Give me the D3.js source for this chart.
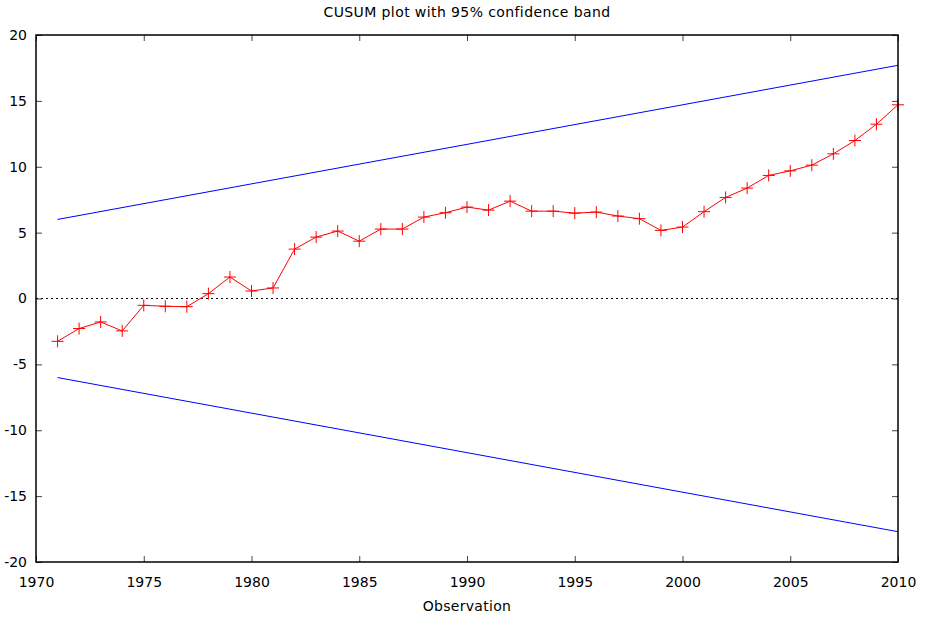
<!DOCTYPE html>
<html>
<head>
<meta charset="utf-8">
<script src="https://cdn.jsdelivr.net/npm/d3@7"></script>
<style>
  body { margin: 0; background: #fff; }
  text { font-family: "DejaVu Sans", Verdana, sans-serif; font-size: 14px; fill: #000; }
</style>
</head>
<body>
<div id="chart-area"></div>
<script>
// data
var years = d3.range(1971, 2011);
var cusum = [-3.25, -2.28, -1.78, -2.46, -0.52, -0.59, -0.62, 0.37, 1.63, 0.57,
             0.8, 3.75, 4.66, 5.12, 4.35, 5.27, 5.27, 6.18, 6.51, 6.94,
             6.71, 7.39, 6.63, 6.63, 6.48, 6.56, 6.26, 6.06, 5.17, 5.42,
             6.59, 7.67, 8.38, 9.34, 9.69, 10.12, 10.98, 11.99, 13.23, 14.7];
var bandYears = [1971, 2010];
var bandUpper = [6.0, 17.7];
var bandLower = [-6.0, -17.7];
var xTicks = [1970, 1975, 1980, 1985, 1990, 1995, 2000, 2005, 2010];
var yTicks = [-20, -15, -10, -5, 0, 5, 10, 15, 20];

var W = 929, H = 618;
var margin = {left: 36, right: 31, top: 35, bottom: 56};
var width = W - margin.left - margin.right,
	height = H - margin.top - margin.bottom;

var svg = d3.select("#chart-area")
	.append("svg")
		.attr("width", W)
		.attr("height", H);

var g = svg.append("g")
	.attr("transform", "translate(" + margin.left + "," + margin.top + ")");

var x = d3.scaleLinear().domain([1970, 2010]).range([0, width]);
var y = d3.scaleLinear().domain([-20, 20]).range([height, 0]);

//inward ticks on all four sides
var tickLen = 6;
g.append("g").attr("transform", "translate(0," + height + ")")
	.call(d3.axisBottom(x).tickValues(xTicks).tickSizeInner(-tickLen).tickSizeOuter(0).tickPadding(15)
		.tickFormat(function(d){ return String(d); }));
g.append("g")
	.call(d3.axisTop(x).tickValues(xTicks).tickSizeInner(-tickLen).tickSizeOuter(0).tickFormat(""));
g.append("g")
	.call(d3.axisLeft(y).tickValues(yTicks).tickSizeInner(-tickLen).tickSizeOuter(0).tickPadding(9)
		.tickFormat(function(d){ return String(d); })); //plain hyphen, like the original
g.append("g").attr("transform", "translate(" + width + ",0)")
	.call(d3.axisRight(y).tickValues(yTicks).tickSizeInner(-tickLen).tickSizeOuter(0).tickFormat(""));

g.selectAll(".domain").remove();
g.selectAll(".tick line").attr("stroke", "#444").attr("stroke-width", 1);
g.selectAll(".tick text").attr("font-size", "14px").attr("font-family", "'DejaVu Sans', Verdana, sans-serif");

//zero line
g.append("line")
	.attr("x1", 0).attr("x2", width)
	.attr("y1", y(0)).attr("y2", y(0))
	.attr("stroke", "#000")
	.attr("stroke-width", 1)
	.attr("stroke-dasharray", "2,3");

//confidence band
var bandLine = d3.line()
	.x(function(d, i){ return x(bandYears[i]); })
	.y(function(d){ return y(d); });
[bandUpper, bandLower].forEach(function(b){
	g.append("path")
		.attr("d", bandLine(b))
		.attr("fill", "none")
		.attr("stroke", "#0000ff")
		.attr("stroke-width", 1);
});

//cusum line
var line = d3.line()
	.x(function(d, i){ return x(years[i]); })
	.y(function(d){ return y(d); });
g.append("path")
	.attr("d", line(cusum))
	.attr("fill", "none")
	.attr("stroke", "#ff0000")
	.attr("stroke-width", 1);

//plus markers
var s = 6;
g.selectAll(".pt")
	.data(cusum)
	.enter().append("path")
		.attr("class", "pt")
		.attr("d", function(d, i){
			var cx = x(years[i]), cy = y(d);
			return "M" + (cx - s) + "," + cy + "H" + (cx + s) +
				"M" + cx + "," + (cy - s) + "V" + (cy + s);
		})
		.attr("stroke", "#ff0000")
		.attr("stroke-width", 1);

//frame
g.append("rect")
	.attr("width", width).attr("height", height)
	.attr("fill", "none")
	.attr("stroke", "#000")
	.attr("stroke-width", 1.5);

//title and label
svg.append("text")
	.attr("x", margin.left + width / 2)
	.attr("y", 17)
	.attr("text-anchor", "middle")
	.attr("letter-spacing", "0.4px")
	.text("CUSUM plot with 95% confidence band");

svg.append("text")
	.attr("x", margin.left + width / 2)
	.attr("y", 611)
	.attr("text-anchor", "middle")
	.attr("letter-spacing", "0.3px")
	.text("Observation");
</script>
</body>
</html>
